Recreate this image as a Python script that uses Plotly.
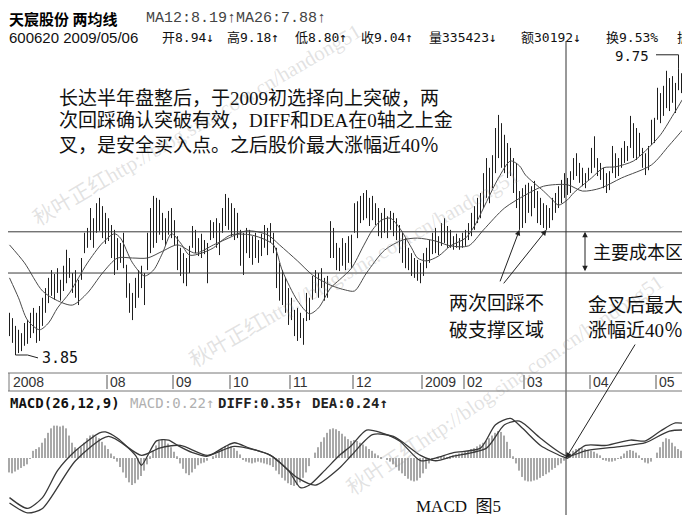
import plotly.graph_objects as go

# ---------------- data ----------------
highs = [
    4.72, 4.61, 4.45, 4.37, 4.30, 4.51, 4.57, 4.72, 4.82, 4.72,
    4.86, 5.03, 5.23, 5.44, 5.60, 5.52, 5.64, 5.40, 5.69, 6.02,
    5.85, 5.54, 5.60, 5.40, 5.85, 6.37, 6.47, 6.88, 6.67, 6.98,
    7.09, 6.92, 6.78, 6.67, 6.53, 6.43, 6.26, 6.16, 6.37, 5.71,
    5.33, 5.13, 5.44, 5.60, 5.69, 5.54, 6.37, 6.88, 7.13, 7.09,
    7.05, 6.78, 6.67, 6.82, 6.88, 6.63, 6.30, 6.06, 5.95, 5.85,
    6.10, 6.51, 6.43, 6.26, 6.35, 6.22, 6.16, 6.63, 6.59, 6.67,
    6.57, 6.88, 7.17, 7.09, 6.98, 6.88, 6.78, 6.43, 6.37, 6.47,
    6.43, 6.30, 6.37, 6.22, 6.35, 6.53, 6.47, 6.57, 6.37, 6.06,
    5.75, 5.60, 5.44, 5.23, 5.03, 4.78, 4.82, 4.72, 4.61, 5.13,
    5.03, 5.48, 5.60, 5.54, 5.64, 5.44, 5.48, 6.61, 6.47, 6.16,
    6.06, 6.26, 6.16, 6.30, 6.33, 6.98, 7.02, 7.13, 7.19, 7.25,
    7.09, 7.13, 6.98, 6.88, 6.78, 6.88, 6.71, 6.82, 6.78, 6.67,
    6.53, 6.37, 6.26, 6.06, 5.95, 5.85, 5.81, 5.75, 5.95, 6.06,
    6.22, 6.37, 6.47, 6.30, 6.57, 6.67, 6.51, 6.43, 6.30, 6.35,
    6.26, 6.37, 6.43, 6.57, 6.78, 6.92, 7.09, 7.19, 7.60, 7.91,
    7.71, 7.97, 8.53, 8.80, 8.63, 8.39, 8.22, 8.12, 7.91, 7.81,
    7.23, 7.29, 7.36, 7.40, 7.33, 7.44, 7.23, 7.09, 6.98, 6.94,
    6.88, 7.09, 7.19, 7.33, 7.46, 7.60, 7.50, 7.64, 7.91, 8.01,
    7.81, 7.71, 7.60, 7.71, 8.12, 8.36, 7.91, 7.81, 7.71, 7.60,
    7.64, 8.16, 8.01, 7.91, 8.12, 8.26, 8.16, 8.78, 8.63, 8.53,
    8.43, 8.12, 8.01, 8.16, 8.70, 8.74, 9.36, 9.25, 9.40, 9.71,
    9.56, 9.60, 9.46, 9.75, 9.66, 9.46, 9.36, 9.25, 9.19, 9.18,
]
lows = [
    4.24, 4.10, 3.85, 3.89, 3.93, 4.04, 4.08, 4.20, 4.30, 4.10,
    4.14, 4.45, 4.72, 4.92, 5.07, 4.99, 5.13, 4.97, 5.17, 5.33,
    5.44, 5.13, 5.03, 4.88, 5.40, 5.95, 6.06, 6.22, 6.06, 6.37,
    6.41, 6.26, 6.14, 6.20, 5.85, 5.50, 5.60, 5.75, 5.64, 5.03,
    4.72, 4.57, 4.82, 5.03, 5.23, 4.88, 5.60, 5.95, 6.06, 6.16,
    6.33, 6.22, 6.10, 6.33, 6.26, 6.12, 5.60, 5.48, 5.33, 5.27,
    5.54, 6.06, 5.95, 5.89, 5.85, 5.93, 5.33, 6.22, 6.26, 6.06,
    5.91, 6.37, 6.51, 6.43, 6.30, 6.22, 6.26, 5.69, 5.50, 5.95,
    5.85, 5.71, 5.85, 5.75, 5.89, 6.06, 5.91, 6.16, 5.95, 5.23,
    4.97, 4.88, 4.72, 4.47, 4.57, 4.24, 4.14, 4.20, 4.06, 4.55,
    4.57, 4.99, 5.13, 5.03, 5.23, 4.97, 5.03, 5.85, 5.85, 5.60,
    5.58, 5.69, 5.60, 5.75, 5.64, 6.37, 6.26, 6.57, 6.63, 6.67,
    6.51, 6.63, 6.53, 6.30, 6.26, 6.37, 6.26, 6.43, 6.30, 6.22,
    5.95, 5.75, 5.64, 5.60, 5.48, 5.44, 5.38, 5.33, 5.48, 5.64,
    5.75, 5.93, 5.95, 5.91, 6.10, 6.16, 6.06, 6.06, 6.02, 6.06,
    6.02, 6.06, 6.10, 6.22, 6.30, 6.43, 6.57, 6.67, 6.88, 7.09,
    6.98, 7.29, 7.60, 7.91, 7.71, 7.60, 7.50, 7.54, 7.19, 6.88,
    6.43, 6.47, 6.57, 6.78, 6.71, 6.88, 6.57, 6.53, 6.47, 6.43,
    6.47, 6.63, 6.78, 6.88, 6.98, 7.09, 7.15, 7.19, 7.46, 7.54,
    7.40, 7.33, 7.29, 7.46, 7.60, 7.71, 7.54, 7.46, 7.29, 7.19,
    7.25, 7.60, 7.50, 7.54, 7.71, 7.81, 7.85, 8.12, 7.91, 7.87,
    7.95, 7.71, 7.56, 7.66, 8.18, 8.22, 8.70, 8.63, 8.78, 8.94,
    8.88, 9.05, 8.84, 9.31, 9.25, 9.05, 8.94, 8.88, 8.84, 8.80,
]

ma12_idx = [0, 3, 6, 10, 13, 16, 20, 23, 26, 31, 35, 37, 41, 45, 48, 51, 54, 57, 60, 64,
            68, 71, 74, 80, 84, 88, 91, 96, 100, 103, 107, 110, 114, 118, 121, 124, 127, 130, 134, 136,
            139, 143, 147, 152, 155, 158, 163, 167, 170, 172, 178, 181, 183, 186, 188, 194, 198, 202, 208, 212,
            217, 222, 226, 229]
ma12_val = [5.44, 5.03, 4.57, 4.37, 4.51, 4.82, 5.13, 5.44, 5.75, 6.16, 6.35, 6.26, 5.75, 5.48, 5.60, 5.95, 6.35, 6.16, 5.91, 5.95,
            6.06, 6.22, 6.33, 6.33, 6.26, 6.12, 5.58, 4.97, 4.70, 4.82, 5.23, 5.40, 5.64, 6.10, 6.43, 6.63, 6.67, 6.47, 6.06, 5.85,
            5.79, 5.89, 6.10, 6.26, 6.51, 6.88, 7.50, 7.85, 7.75, 7.56, 7.23, 7.05, 6.94, 7.05, 7.19, 7.50, 7.71, 7.73, 7.85, 8.06,
            8.39, 8.88, 9.25, 9.31]

ma26_idx = [0, 5, 11, 16, 21, 26, 31, 36, 41, 46, 51, 56, 62, 68, 73, 79, 86, 90, 96, 101,
            107, 112, 115, 119, 125, 131, 136, 142, 147, 153, 158, 165, 172, 178, 186, 191, 197, 204, 214, 220,
            227, 229]
ma26_val = [6.12, 5.75, 5.17, 4.97, 4.88, 5.13, 5.54, 5.85, 5.85, 5.85, 5.99, 6.12, 5.95, 6.12, 6.26, 6.41, 6.33, 6.12, 5.79, 5.50,
            5.29, 5.19, 5.17, 5.54, 6.01, 6.22, 6.26, 6.20, 6.10, 6.10, 6.43, 6.88, 7.15, 7.33, 7.36, 7.23, 7.29, 7.50, 7.77, 8.18,
            8.67, 8.78]

macd_hist = [
    -0.16, -0.17, -0.15, -0.13, -0.11, -0.09, -0.07, -0.01, 0.08, 0.10,
    0.12, 0.17, 0.22, 0.28, 0.33, 0.36, 0.36, 0.35, 0.36, 0.33,
    0.25, 0.17, 0.12, 0.10, 0.12, 0.17, 0.22, 0.25, 0.26, 0.24,
    0.22, 0.18, 0.14, 0.10, 0.05, 0.02, -0.04, -0.10, -0.16, -0.22,
    -0.27, -0.30, -0.28, -0.24, -0.20, -0.14, -0.07, 0.02, 0.08, 0.14,
    0.19, 0.21, 0.20, 0.16, 0.12, 0.07, 0.02, -0.06, -0.12, -0.17,
    -0.19, -0.16, -0.12, -0.08, -0.06, -0.05, -0.03, 0.00, 0.02, 0.04,
    0.07, 0.10, 0.13, 0.14, 0.13, 0.11, 0.08, 0.04, -0.02, -0.04,
    -0.05, -0.06, -0.05, -0.04, -0.05, -0.06, -0.07, -0.08, -0.10, -0.14,
    -0.18, -0.22, -0.25, -0.28, -0.30, -0.31, -0.30, -0.27, -0.22, -0.16,
    -0.09, 0.00, 0.06, 0.12, 0.18, 0.23, 0.28, 0.32, 0.33, 0.32,
    0.30, 0.27, 0.24, 0.21, 0.19, 0.20, 0.19, 0.17, 0.15, 0.13,
    0.10, 0.08, 0.05, 0.03, 0.01, 0.00, -0.02, -0.04, -0.07, -0.10,
    -0.14, -0.17, -0.20, -0.23, -0.25, -0.26, -0.25, -0.22, -0.17, -0.12,
    -0.06, -0.03, 0.00, 0.01, 0.02, 0.02, 0.01, 0.02, 0.03, 0.04,
    0.05, 0.06, 0.07, 0.08, 0.10, 0.11, 0.13, 0.15, 0.17, 0.19,
    0.22, 0.25, 0.28, 0.30, 0.29, 0.25, 0.18, 0.10, 0.02, -0.06,
    -0.14, -0.21, -0.25, -0.26, -0.26, -0.25, -0.24, -0.22, -0.20, -0.18,
    -0.16, -0.13, -0.11, -0.08, -0.06, -0.03, 0.02, 0.05, 0.08, 0.10,
    0.11, 0.11, 0.10, 0.09, 0.08, 0.07, 0.05, 0.03, -0.02, -0.03,
    -0.04, -0.04, -0.03, -0.01, 0.02, 0.05, 0.08, 0.09, 0.08, 0.06,
    0.03, -0.02, -0.05, -0.06, -0.04, 0.00, 0.06, 0.12, 0.18, 0.22,
    0.21, 0.17, 0.13, 0.10, 0.08, 0.05, 0.01, -0.03, -0.06, -0.08,
]

diff_idx = [0, 6, 11, 16, 22, 30, 32, 36, 42, 44, 49, 53, 56, 61, 66, 72, 75, 80, 87, 93,
            97, 100, 105, 110, 114, 119, 124, 130, 137, 142, 148, 157, 162, 167, 171, 177, 184, 186, 192, 199,
            207, 212, 217, 222, 229]
diff_val = [-0.44, -0.56, -0.44, -0.14, 0.08, 0.28, 0.29, 0.22, 0.03, -0.08, 0.19, 0.20, 0.14, 0.06, 0.02, 0.13, 0.17, 0.11, 0.03, -0.14,
            -0.33, -0.30, -0.14, 0.03, 0.14, 0.31, 0.28, 0.19, -0.03, 0.00, 0.06, 0.11, 0.37, 0.44, 0.33, 0.14, 0.02, 0.00, 0.14, 0.14,
            0.20, 0.19, 0.30, 0.39, 0.36]
dea_idx = [0, 6, 11, 22, 33, 44, 50, 57, 66, 75, 87, 96, 102, 110, 114, 121, 128, 137, 142, 148,
           159, 165, 170, 177, 186, 192, 204, 212, 220, 229]
dea_val = [-0.50, -0.61, -0.56, -0.03, 0.24, 0.03, 0.11, 0.14, 0.03, 0.13, 0.03, -0.22, -0.30, -0.11, 0.03, 0.26, 0.24, 0.03, -0.03, 0.02,
           0.11, 0.37, 0.41, 0.22, 0.02, 0.08, 0.13, 0.17, 0.30, 0.31]

first_label = "2008"
month_idx = [33, 55, 74, 94, 115, 138, 152, 172, 194, 216]
month_labels = ["08", "09", "10", "11", "12", "2009", "02", "03", "04", "05"]
support_zone = [5.54, 6.39]
pullback_idx = [170, 179]
cross_idx = 185.5

# ---------------- figure ----------------
N = len(highs)
W, H = 690, 515


def px(x):
    return x / W


def py(y):
    return 1 - y / H


fig = go.Figure()

bx, by = [], []
for i in range(N):
    bx += [i, i, None]
    by += [lows[i], highs[i], None]
fig.add_trace(go.Scatter(x=bx, y=by, mode="lines", line=dict(color="#1e1e1e", width=1),
                         xaxis="x", yaxis="y", hoverinfo="skip"))
fig.add_trace(go.Scatter(x=ma12_idx, y=ma12_val, mode="lines",
                         line=dict(color="#4a4a4a", width=1, shape="spline", smoothing=0.8),
                         xaxis="x", yaxis="y"))
fig.add_trace(go.Scatter(x=ma26_idx, y=ma26_val, mode="lines",
                         line=dict(color="#4a4a4a", width=1, shape="spline", smoothing=0.8),
                         xaxis="x", yaxis="y"))

fig.add_trace(go.Bar(x=list(range(N)), y=macd_hist, width=0.35, marker=dict(color="#a8a8a8", line=dict(width=0)),
                     xaxis="x2", yaxis="y2"))
fig.add_trace(go.Scatter(x=diff_idx, y=diff_val, mode="lines",
                         line=dict(color="#383838", width=1.3, shape="spline", smoothing=0.7),
                         xaxis="x2", yaxis="y2"))
fig.add_trace(go.Scatter(x=dea_idx, y=dea_val, mode="lines",
                         line=dict(color="#383838", width=1.3, shape="spline", smoothing=0.7),
                         xaxis="x2", yaxis="y2"))

xr = [-0.5, N - 0.5]
fig.update_layout(
    width=W, height=H, margin=dict(l=0, r=0, t=0, b=0),
    paper_bgcolor="white", plot_bgcolor="white", showlegend=False,
    xaxis=dict(domain=[0, 1], range=xr, visible=False, anchor="y"),
    yaxis=dict(domain=[py(363), py(40)], range=[3.52, 10.18], visible=False, anchor="x"),
    xaxis2=dict(domain=[0, 1], range=xr, visible=False, anchor="y2", matches="x"),
    yaxis2=dict(domain=[0, py(400)], range=[-0.722, 0.556], visible=False, anchor="x2"),
)

shapes = []
for lv in support_zone:
    shapes.append(dict(type="line", xref="paper", yref="y", x0=0, x1=1, y0=lv, y1=lv,
                       line=dict(color="#3a3a3a", width=1)))
shapes.append(dict(type="line", xref="x", yref="paper", x0=cross_idx, x1=cross_idx, y0=0, y1=py(33),
                   line=dict(color="#333", width=1)))
for yy in (365, 383):
    shapes.append(dict(type="line", xref="paper", yref="paper", x0=0, x1=1, y0=py(yy), y1=py(yy),
                       line=dict(color="#777", width=1)))
shapes.append(dict(type="line", xref="paper", yref="paper", x0=px(1), x1=px(1), y0=py(365), y1=py(383),
                   line=dict(color="#777", width=1)))
for m in month_idx:
    shapes.append(dict(type="line", xref="x", yref="paper", x0=m - 0.5, x1=m - 0.5, y0=py(367), y1=py(381),
                       line=dict(color="#555", width=1)))

hmax = max(highs)
imax = highs.index(hmax)
lmin = min(lows)
imin = lows.index(lmin)
shapes.append(dict(type="path", xref="x", yref="y",
                   path=f"M {imax - 7.5},{hmax + 0.29} L {imax},{hmax + 0.29} L {imax},{hmax}",
                   line=dict(color="#222", width=1)))
shapes.append(dict(type="path", xref="x", yref="y",
                   path=f"M {imin},{lmin} L {imin + 4},{lmin} L {imin + 7.5},{lmin - 0.06}",
                   line=dict(color="#222", width=1)))
fig.update_layout(shapes=shapes)

ann = []


def text(x, y, s, size=14, color="#111", family="Noto Sans CJK SC", xanchor="left", angle=0):
    ann.append(dict(x=px(x), y=py(y), xref="paper", yref="paper", text=s, showarrow=False,
                    xanchor=xanchor, yanchor="middle", textangle=angle, borderpad=0,
                    font=dict(size=size, color=color, family=family)))


# watermarks
wm = "秋叶正红http://blog.sina.com.cn/handong51"
wf = "Liberation Serif, Noto Sans CJK SC"
text(189, 117, wm, 21, "rgba(140,140,140,0.25)", wf, "center", -30.5)
text(346, 260, wm, 21, "rgba(140,140,140,0.25)", wf, "center", -30)
text(497, 377, wm, 21, "rgba(140,140,140,0.25)", wf, "center", -34)

# header
text(0, 11, "<b>天宸股份 两均线</b>", 15, "#000")
text(137, 11, "MA12:8.19↑MA26:7.88↑", 15, "#444", "Liberation Mono, DejaVu Sans Mono")
mono = "DejaVu Sans Mono, Noto Sans CJK SC"
text(0, 29, "600620 2009/05/06", 15, "#111", "Liberation Sans")
for xx, s in [(153, "开8.94↓"), (218, "高9.18↑"), (286, "低8.80↑"), (352, "收9.04↑"),
              (420, "量335423↓"), (512, "额30192↓"), (597, "换9.53%"), (668, "振")]:
    text(xx, 29, s, 13, "#111", mono)

# date row
ann.append(dict(x=px(3), y=py(374), xref="paper", yref="paper", text=first_label, showarrow=False,
                xanchor="left", yanchor="middle", font=dict(size=14, color="#333", family="Liberation Sans")))
for m, lab in zip(month_idx, month_labels):
    ann.append(dict(x=m - 0.5, y=py(374), xref="x", yref="paper", text=lab, showarrow=False,
                    xanchor="left", yanchor="middle", xshift=1,
                    font=dict(size=14, color="#333", family="Liberation Sans")))

# MACD header
text(1, 395, "<b>MACD(26,12,9)</b>", 14, "#111", mono)
text(121, 395, "MACD:0.22↑", 14, "#b0b0b0", mono)
text(209, 395, "<b>DIFF:0.35↑</b>", 14, "#222", mono)
text(303, 395, "<b>DEA:0.24↑</b>", 14, "#222", mono)

# main annotations
sf = "Liberation Serif, Noto Sans CJK SC"
text(50, 90, "长达半年盘整后，于2009初选择向上突破，两", 19, "#111", sf)
text(50, 113, "次回踩确认突破有效，DIFF和DEA在0轴之上金", 19, "#111", sf)
text(50, 137, "叉，是安全买入点。之后股价最大涨幅近40％", 19, "#111", sf)
text(584, 245, "主要成本区", 18, "#111", sf)
text(440, 295, "两次回踩不", 19, "#111", sf)
text(440, 322, "破支撑区域", 19, "#111", sf)
text(579, 297, "金叉后最大", 19, "#111", sf)
text(579, 322, "涨幅近40％", 19, "#111", sf)
text(450, 498, "MACD  图5", 17, "#111", sf, "center")

# extreme labels
ann.append(dict(x=imax - 9.5, y=hmax + 0.26, xref="x", yref="y", text=f"{hmax:.2f}", showarrow=False,
                xanchor="right", yanchor="middle", borderpad=0,
                font=dict(size=14, color="#111", family="DejaVu Sans Mono")))
ann.append(dict(x=imin + 8.4, y=lmin - 0.07, xref="x", yref="y", text=f"{lmin:.2f}", showarrow=False,
                xanchor="left", yanchor="middle", borderpad=0,
                font=dict(size=15, color="#111", family="DejaVu Sans Mono")))

# arrows
arrow = dict(showarrow=True, arrowhead=2, arrowsize=1.1, arrowwidth=1, arrowcolor="#222", text="",
             axref="pixel", ayref="pixel")
for k, (dx, dy) in zip(pullback_idx, [(-20, 53), (-44, 55)]):
    ann.append(dict(arrow, x=k, y=lows[k], xref="x", yref="y", ax=dx, ay=dy))
ann.append(dict(arrow, x=px(577), y=support_zone[1], xref="paper", yref="y", ax=0, ay=41,
                arrowside="end+start"))
ann.append(dict(arrow, x=cross_idx, y=0, xref="x2", yref="y2", ax=70, ay=-115))

fig.update_layout(annotations=ann)
fig.write_html("out.html")
